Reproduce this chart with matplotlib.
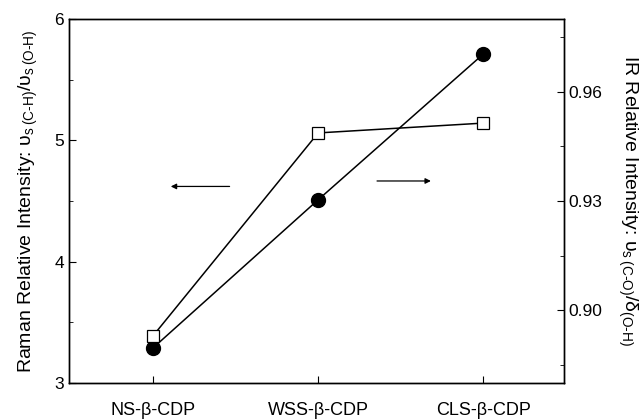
import matplotlib
matplotlib.use("Agg")
import matplotlib.pyplot as plt
from matplotlib.ticker import MultipleLocator

plt.rcParams['font.family'] = ['Liberation Sans', 'DejaVu Sans']
plt.rcParams['mathtext.fontset'] = 'custom'
plt.rcParams['mathtext.rm'] = 'Liberation Sans'
plt.rcParams['mathtext.it'] = 'Liberation Sans'
plt.rcParams['mathtext.bf'] = 'Liberation Sans:bold'

categories = ["NS-β-CDP", "WSS-β-CDP", "CLS-β-CDP"]
raman = [3.29, 4.51, 5.71]
ir = [0.893, 0.9487, 0.9514]

fig = plt.figure(figsize=(6.43, 4.20), dpi=100)
ax = fig.add_axes([69/643, 1-383/420, (564-69)/643, (383-19)/420])
x = list(range(len(categories)))

ax.plot(x, raman, color='black', lw=1.1, marker='o', ms=10, mfc='black', mec='black', zorder=3)
ax.set_xlim(-0.51, 2.49)
ax.set_ylim(3, 6)
ax.yaxis.set_major_locator(MultipleLocator(1))
ax.yaxis.set_minor_locator(MultipleLocator(0.5))
ax.set_xticks(x)
ax.set_xticklabels(categories)
ax.tick_params(axis='both', which='both', direction='in', top=False, right=False, labelsize=12.5)
ax.tick_params(axis='x', labelsize=13, pad=14, length=5)
ax.tick_params(axis='y', which='major', length=5)
ax.tick_params(axis='y', which='minor', length=3)
ax.set_ylabel(r"Raman Relative Intensity: $\upsilon_{s\;(C\text{-}H)}/\upsilon_{s\;(O\text{-}H)}$",
              fontsize=14, labelpad=10)

ax2 = ax.twinx()
ax2.plot(x, ir, color='black', lw=1.1, marker='s', ms=9, mfc='white', mec='black', mew=0.9, zorder=3)
ax2.set_ylim(0.88, 0.98)
ax2.set_yticks([0.90, 0.93, 0.96])
ax2.set_yticklabels(["0.90", "0.93", "0.96"])
ax2.yaxis.set_minor_locator(MultipleLocator(0.015))
ax2.tick_params(axis='y', which='both', direction='in', labelsize=12.5)
ax2.tick_params(axis='y', which='major', length=5)
ax2.tick_params(axis='y', which='minor', length=3)
ax2.set_ylabel(r"IR Relative Intensity: $\upsilon_{s\;(C\text{-}O)}/\delta_{(O\text{-}H)}$",
               fontsize=14, rotation=-90, labelpad=26)

for a in (ax, ax2):
    for s in a.spines.values():
        s.set_linewidth(1.0)

ax.annotate("", xy=(0.09, 4.62), xytext=(0.48, 4.62),
            arrowprops=dict(arrowstyle='-|>', color='black', lw=0.9, mutation_scale=8))
ax.annotate("", xy=(1.70, 4.665), xytext=(1.34, 4.665),
            arrowprops=dict(arrowstyle='-|>', color='black', lw=0.9, mutation_scale=8))

fig.savefig("out.png", dpi=100)
